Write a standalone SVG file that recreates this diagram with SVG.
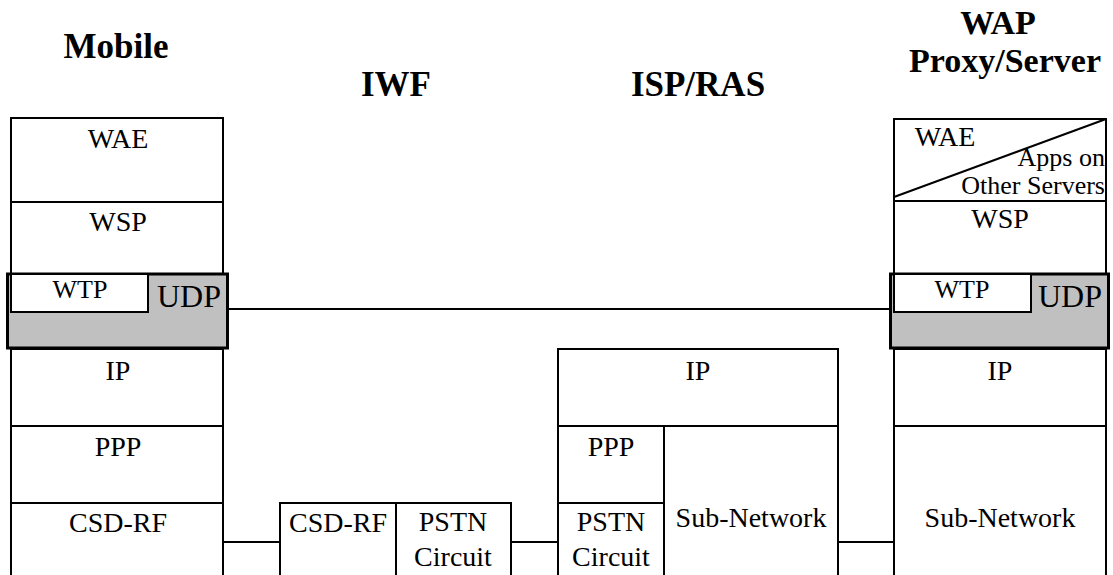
<svg xmlns="http://www.w3.org/2000/svg" width="1113" height="575" viewBox="0 0 1113 575">
<style>
.box{fill:#fff;stroke:#000;stroke-width:2}
.gray{fill:#c0c0c0;stroke:#000;stroke-width:3}
.ln{stroke:#000;stroke-width:2;fill:none}
text{font-family:'Liberation Serif','Times New Roman',Times,serif;fill:#000;text-anchor:middle}
.t{font-size:28px}
.s{font-size:26px}
.u{font-size:32px}
.e{text-anchor:end}
.h{font-size:35px;font-weight:bold}
.h2{font-size:34px;font-weight:bold}
</style>
<rect width="1113" height="575" fill="#fff"/>
<g id="titles">
<text class="h" x="116" y="58">Mobile</text>
<text class="h" x="396" y="96">IWF</text>
<text class="h" x="698" y="96">ISP/RAS</text>
<text class="h2" x="998" y="34">WAP</text>
<text class="h2" x="1005" y="72">Proxy/Server</text>
</g>
<g id="connectors">
<line class="ln" x1="227" y1="309" x2="890" y2="309"/>
<line class="ln" x1="223" y1="542" x2="280" y2="542"/>
<line class="ln" x1="511" y1="542" x2="558" y2="542"/>
<line class="ln" x1="838" y1="542" x2="894" y2="542"/>
</g>
<g id="mobile">
<rect class="box" x="11" y="118" width="212" height="84"/>
<text class="t" x="118" y="148">WAE</text>
<rect class="box" x="11" y="202" width="212" height="72"/>
<text class="t" x="118" y="231">WSP</text>
<rect class="gray" x="7.5" y="274" width="220" height="74"/>
<rect class="box" x="11" y="274" width="137" height="38"/>
<text class="s" x="80" y="298">WTP</text>
<text class="u" x="189" y="307">UDP</text>
<rect class="box" x="11" y="349" width="212" height="77"/>
<text class="t" x="118" y="380">IP</text>
<rect class="box" x="11" y="426" width="212" height="77"/>
<text class="t" x="118" y="456">PPP</text>
<rect class="box" x="11" y="503" width="212" height="80"/>
<text class="t" x="118" y="532">CSD-RF</text>
</g>
<g id="iwf">
<rect class="box" x="280" y="503" width="116" height="80"/>
<text class="t" x="338" y="532">CSD-RF</text>
<rect class="box" x="396" y="503" width="115" height="80"/>
<text class="t" x="453" y="531">PSTN</text>
<text class="t" x="453" y="566">Circuit</text>
</g>
<g id="isp">
<rect class="box" x="558" y="349" width="280" height="77"/>
<text class="t" x="698" y="380">IP</text>
<rect class="box" x="558" y="426" width="106" height="77"/>
<text class="t" x="611" y="456">PPP</text>
<rect class="box" x="558" y="503" width="106" height="80"/>
<text class="t" x="611" y="531">PSTN</text>
<text class="t" x="611" y="566">Circuit</text>
<rect class="box" x="664" y="426" width="174" height="157"/>
<text class="t" x="751" y="527">Sub-Network</text>
</g>
<g id="wap">
<rect class="box" x="894" y="119" width="212" height="82"/>
<line class="ln" x1="894" y1="197" x2="1106" y2="119"/>
<text class="t" x="945" y="146">WAE</text>
<text class="s e" x="1105" y="166">Apps on</text>
<text class="s e" x="1105" y="194">Other Servers</text>
<rect class="box" x="894" y="201" width="212" height="73"/>
<text class="t" x="1000" y="228">WSP</text>
<rect class="gray" x="890.5" y="274" width="218" height="74"/>
<rect class="box" x="894" y="274" width="137" height="38"/>
<text class="s" x="962" y="298">WTP</text>
<text class="u" x="1070" y="307">UDP</text>
<rect class="box" x="894" y="349" width="212" height="77"/>
<text class="t" x="1000" y="380">IP</text>
<rect class="box" x="894" y="426" width="212" height="157"/>
<text class="t" x="1000" y="527">Sub-Network</text>
</g>
</svg>
